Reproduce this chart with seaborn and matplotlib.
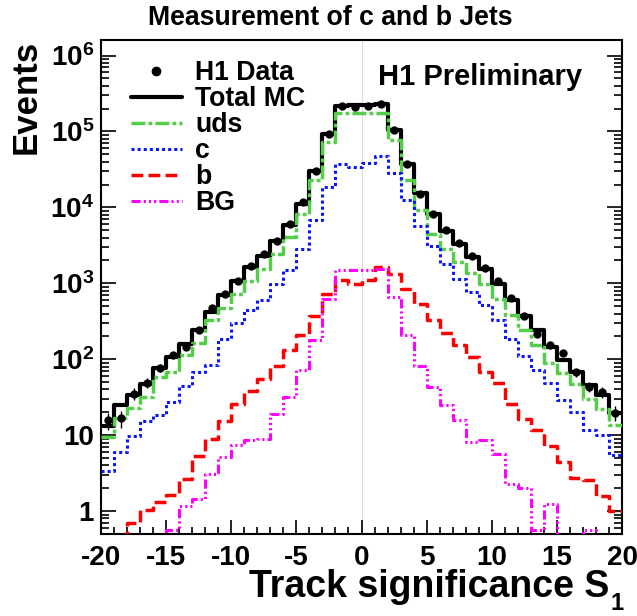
import numpy as np
import matplotlib
matplotlib.use("Agg")
import matplotlib.pyplot as plt
from matplotlib.lines import Line2D
from matplotlib.ticker import (FixedLocator, FixedFormatter, MultipleLocator,
                               LogLocator, NullFormatter)
import seaborn as sns

# Histogram binning in track significance S1 (unit-width bins)
bin_edges = list(range(-20, 21))
bin_centers = np.asarray(bin_edges[:-1]) + 0.5

# H1 data, events per bin
data_events = [15.7, 16.6, 35.3, 48.9, 77.7, 115, 145, 246, 479, 731,
               1072, 1670, 2450, 3560, 6100, 11750, 29700, 93000, 215000, 210000,
               217000, 231000, 103000, 36800, 15100, 8100, 5080, 3430, 2290, 1590,
               1072, 647, 368, 212, 153, 121, 67, 43.3, 37.2, 19.7]

# Monte Carlo predictions, events per bin
total_mc = [13.1, 24.8, 33.6, 47.9, 77.7, 107, 161, 246, 420, 695,
            1080, 1640, 2290, 3600, 5800, 11200, 30000, 93000, 218000, 220000,
            224000, 232000, 104000, 37600, 15400, 8100, 4900, 3260, 2220, 1560,
            990, 597, 372, 241, 145, 99, 68, 45.5, 33.6, 19.7]
uds = [9.5, 16.6, 23.1, 31.9, 58.6, 68, 115, 164, 332, 479,
       730, 1060, 1560, 2450, 4070, 8260, 23100, 72400, 176000, 176000,
       177000, 174000, 76000, 23100, 9120, 4500, 2830, 1910, 1370, 990,
       630, 380, 241, 153, 88, 65, 47, 30.3, 21.8, 13.5]
charm = [3.4, 6.0, 9.8, 15.3, 18.3, 27.5, 44.1, 68, 83.5, 187,
         300, 442, 610, 990, 1520, 2860, 6740, 18500, 37000, 34000,
         38000, 48000, 28300, 12400, 5630, 3100, 1820, 1150, 770, 514,
         326, 187, 111, 72, 48, 29.5, 20.3, 11.6, 10, 5.5]
beauty = [0.3, 0.3, 0.69, 1.05, 1.3, 1.62, 2.69, 5.3, 9.0, 15.4,
          26, 38, 55, 81, 131, 207, 372, 731, 1090, 990,
          1090, 1640, 1340, 832, 530, 332, 224, 153, 107, 68,
          48, 26, 16.2, 11.6, 7.2, 4.5, 2.7, 2.6, 1.57, 1.0]
background = [0.3, 0.3, 0.3, 0.3, 0.3, 0.57, 1.16, 1.43, 3.1, 5.2,
              7.4, 8.6, 9.0, 19.3, 31.8, 72, 181, 630, 1480, 1480,
              1480, 1560, 660, 207, 81, 43, 24.8, 15.8, 8.2, 8.6,
              5.7, 2.3, 2.0, 0.57, 1.24, 0.3, 0.3, 0.57, 0.3, 0.3]

legend_labels = ["H1 Data", "Total MC", "uds", "c", "b", "BG"]
y_tick_values = [1, 10, 1e2, 1e3, 1e4, 1e5, 1e6]
y_tick_labels = ["1", "10", "$10^{2}$", "$10^{3}$", "$10^{4}$", "$10^{5}$", "$10^{6}$"]

sns.set_style("ticks")
plt.rcParams.update({
    "font.family": ["Liberation Sans", "DejaVu Sans"],
    "font.weight": "bold",
    "axes.labelweight": "bold",
    "text.color": "black",
    "axes.labelcolor": "black",
    "xtick.color": "black",
    "ytick.color": "black",
    "axes.edgecolor": "black",
    "axes.unicode_minus": False,
    "mathtext.fontset": "custom",
    "mathtext.rm": "Liberation Sans:bold",
    "mathtext.bf": "Liberation Sans:bold",
    "mathtext.it": "Liberation Sans:bold",
    "mathtext.default": "bf",
})

fig = plt.figure(figsize=(6.37, 6.16), dpi=100)
ax = fig.add_axes([101 / 637, 1 - 534 / 616, 521 / 637, 494 / 616])
ax.set_yscale("log")
ax.axvline(0, color="#dcdcdc", lw=0.8, zorder=0)

# (values, colour, line width, line style)
components = [
    (total_mc, "black", 3.0, "solid"),
    (uds, "#55cc4a", 2.5, (0, (4, 0.9, 1.1, 0.9))),
    (charm, "#0a14ff", 2.2, (0, (1, 1))),
    (beauty, "#ff0000", 2.5, (0, (3.4, 1.5))),
    (background, "#ff00ff", 2.2, (0, (3, 1, 0.7, 1, 0.7, 1, 0.7, 1))),
]
for z, (vals, color, lw, ls) in enumerate(components):
    sns.histplot(x=bin_centers, weights=vals, bins=bin_edges, element="step",
                 fill=False, color=color, linewidth=lw, linestyle=ls,
                 ax=ax, zorder=2 + z)

data_arr = np.asarray(data_events)
ax.errorbar(bin_centers, data_arr, yerr=np.sqrt(data_arr), fmt="none",
            ecolor="black", elinewidth=1.0, capsize=0, zorder=8)
sns.scatterplot(x=bin_centers, y=data_arr, color="black", s=36,
                linewidth=0, ax=ax, zorder=9)

ax.set_xlim(-20, 20)
ax.set_ylim(0.5, 1.6e6)

ax.xaxis.set_major_locator(MultipleLocator(5))
ax.xaxis.set_minor_locator(MultipleLocator(1))
ax.yaxis.set_major_locator(FixedLocator(y_tick_values))
ax.yaxis.set_major_formatter(FixedFormatter(y_tick_labels))
ax.yaxis.set_minor_locator(LogLocator(base=10, subs=np.arange(2, 10), numticks=20))
ax.yaxis.set_minor_formatter(NullFormatter())

ax.tick_params(axis="both", which="both", direction="in", top=False,
               left=True, right=True, width=1.2, color="black")
ax.tick_params(axis="x", which="major", length=10, pad=8, labelsize=20)
ax.tick_params(axis="x", which="minor", length=5)
ax.tick_params(axis="y", which="major", length=11, pad=5, labelsize=20)
ax.tick_params(axis="y", which="minor", length=5.5)
for sp in ax.spines.values():
    sp.set_linewidth(1.5)
    sp.set_color("black")

ax.set_xlabel("Track significance S", fontsize=27, loc="right")
ax.xaxis.set_label_coords((609 - 101) / 521, -0.071)
fig.text(611 / 637, 1 - 604 / 616, "1", fontsize=17, ha="left", va="center")

ax.set_ylabel("Events", fontsize=25, loc="top")
ax.yaxis.set_label_coords((43 - 101) / 521, 1.0)

fig.text(330 / 637, 1 - 18 / 616, "Measurement of c and b Jets",
         fontsize=19.2, ha="center", va="center")
fig.text(378 / 637, 1 - 77 / 616, "H1 Preliminary",
         fontsize=21, ha="left", va="center")

handles = [
    Line2D([], [], marker="o", linestyle="none", color="black", markersize=6),
    Line2D([], [], color="black", lw=3.0),
    Line2D([], [], color="#55cc4a", lw=2.5, linestyle=(0, (4, 0.9, 1.1, 0.9))),
    Line2D([], [], color="#0a14ff", lw=2.2, linestyle=(0, (1, 1))),
    Line2D([], [], color="#ff0000", lw=2.5, linestyle=(0, (3.4, 1.5))),
    Line2D([], [], color="#ff00ff", lw=2.2, linestyle=(0, (3, 1, 0.7, 1, 0.7, 1, 0.7, 1))),
]
ax.legend(handles, legend_labels, loc="upper left",
          bbox_to_anchor=(131 / 637, 1 - 60 / 616), bbox_transform=fig.transFigure,
          frameon=False, fontsize=19.2, handlelength=1.9, handletextpad=0.5,
          labelspacing=0.0, borderpad=0, borderaxespad=0, handleheight=0.5)

fig.savefig("out.png", dpi=100)
